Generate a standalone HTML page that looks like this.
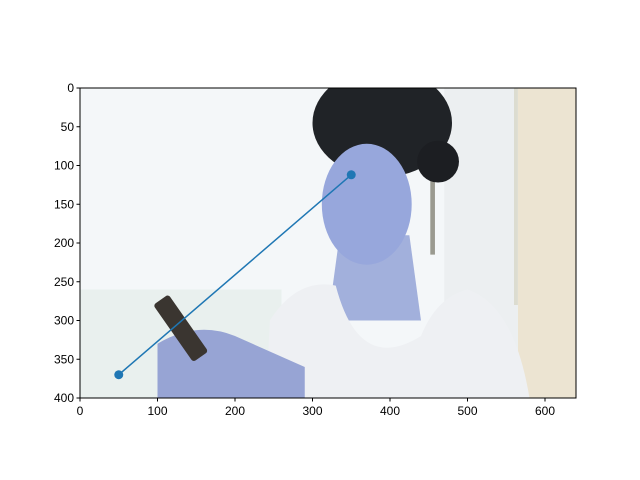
<!DOCTYPE html>
<html><head><meta charset="utf-8"><style>
html,body{margin:0;padding:0;background:#fff;width:640px;height:480px;overflow:hidden}
svg text{font-family:"Liberation Sans","DejaVu Sans",sans-serif;font-size:12px;fill:#000}
</style></head><body>
<svg id="c" width="640" height="480"></svg>
<script>
const xs=[50,350];
const ys=[370,112];
const xTicks=[0,100,200,300,400,500,600];
const yTicks=[0,50,100,150,200,250,300,350,400];
const L=80,T=88,S=496/640;
const X=v=>L+v*S, Y=v=>T+v*S;
const NS="http://www.w3.org/2000/svg";
const svg=document.getElementById('c');
function mk(t,a,p){const e=document.createElementNS(NS,t);for(const k in a)e.setAttribute(k,a[k]);(p||svg).appendChild(e);return e;}
const defs=mk('defs',{});
const cp=mk('clipPath',{id:'clip'},defs);
mk('rect',{x:0,y:0,width:640,height:400},cp);
const g0=mk('g',{transform:`translate(${L},${T}) scale(${S})`});
const g=mk('g',{'clip-path':'url(#clip)'},g0);


mk('rect',{x:0,y:0,width:640,height:400,fill:'#f4f7f9'},g);
mk('rect',{x:0,y:260,width:260,height:140,fill:'#e9f0ee'},g);
mk('rect',{x:565,y:0,width:75,height:400,fill:'#ece4d2'},g);
mk('rect',{x:470,y:0,width:95,height:400,fill:'#eceff1'},g);
mk('rect',{x:452,y:0,width:6,height:215,fill:'#9a9a90'},g);
mk('rect',{x:560,y:0,width:5,height:280,fill:'#dcdcd0'},g);
// hair
mk('ellipse',{cx:390,cy:45,rx:90,ry:70,fill:'#202327'},g);
mk('circle',{cx:462,cy:95,r:27,fill:'#1c1e22'},g);
// neck
mk('path',{d:'M335 190 L425 190 L440 300 L320 300 Z',fill:'#a2b0dc'},g);
// face
mk('ellipse',{cx:370,cy:150,rx:58,ry:78,fill:'#97a7dc'},g);
// shirt
mk('path',{d:'M240 400 L245 300 Q280 245 330 255 Q360 370 440 320 Q460 270 500 260 Q560 280 580 400 Z',fill:'#eef0f3'},g);
// hands/arms
mk('path',{d:'M100 330 Q150 300 200 320 L290 360 L290 400 L100 400 Z',fill:'#97a4d4'},g);
// phone
mk('rect',{x:-12,y:-45,width:24,height:90,rx:4,fill:'#3a3530',transform:'translate(130,310) rotate(-35)'},g);
const fr=mk('rect',{x:L,y:T,width:640*S,height:400*S,fill:'none',stroke:'#000','stroke-width':1});


xTicks.forEach(v=>{
  mk('line',{x1:X(v),x2:X(v),y1:Y(400),y2:Y(400)+3.5,stroke:'#000'});
  const t=mk('text',{x:X(v),y:Y(400)+17,'text-anchor':'middle'});t.textContent=v;
  
  
});
yTicks.forEach(v=>{
  mk('line',{x1:L-3.5,x2:L,y1:Y(v),y2:Y(v),stroke:'#000'});
  const t=mk('text',{x:L-6,y:Y(v)+4,'text-anchor':'end'});t.textContent=v;
  
  
});
const ln=mk('polyline',{points:xs.map((x,i)=>X(x)+','+Y(ys[i])).join(' '),fill:'none',stroke:'#1f77b4','stroke-width':1.5});


xs.forEach((x,i)=>{
  const c=mk('circle',{cx:X(x),cy:Y(ys[i]),r:4.5,fill:'#1f77b4'});
  
  
});
</script>
</body></html>
